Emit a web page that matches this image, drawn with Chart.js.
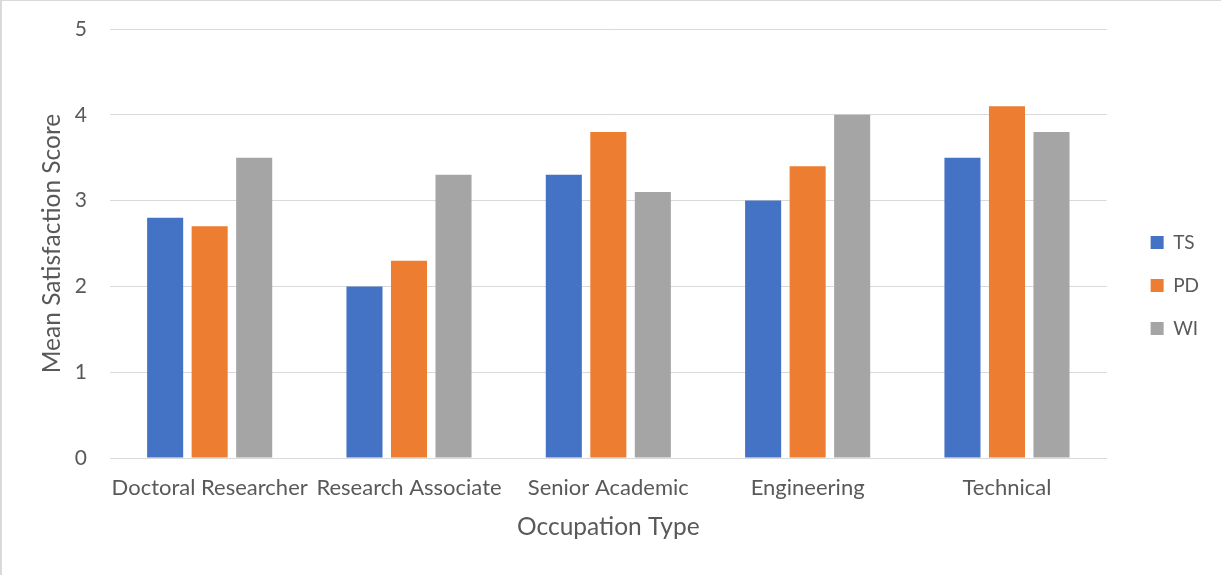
<!DOCTYPE html>
<html>
<head>
<meta charset="utf-8">
<script src="https://cdn.jsdelivr.net/npm/chart.js@4/dist/chart.umd.min.js"></script>
<style>
  html, body { margin: 0; padding: 0; background: #fff; }
  #wrap { position: relative; width: 1221px; height: 575px; box-sizing: border-box;
          border-left: 2px solid #d9d9d9; border-top: 1px solid #d9d9d9; }
</style>
</head>
<body>
<div id="wrap"><canvas id="c"></canvas></div>
<script>
const categories = ["Doctoral Researcher", "Research Associate", "Senior Academic", "Engineering", "Technical"];
const seriesNames = ["TS", "PD", "WI"];
const tsValues = [2.8, 2.0, 3.3, 3.0, 3.5];
const pdValues = [2.7, 2.3, 3.8, 3.4, 4.1];
const wiValues = [3.5, 3.3, 3.1, 4.0, 3.8];
const yTicks = [0, 1, 2, 3, 4, 5];

const FONT = "Lato, 'Liberation Sans', sans-serif";
const TXT = "#595959";
const colors = ["#4472C4", "#ED7D31", "#A5A5A5"];
const values = [tsValues, pdValues, wiValues];

const legendShift = {
  id: "legendShift",
  afterLayout(chart) {
    const lg = chart.legend;
    if (!lg) return;
    const target = chart.chartArea.right + 20;
    const dx = target - lg.left;
    lg.left += dx;
    lg.right += dx;
  }
};

new Chart(document.getElementById("c"), {
  type: "bar",
  data: {
    labels: categories,
    datasets: seriesNames.map((n, i) => ({
      label: n,
      data: values[i],
      backgroundColor: colors[i],
      categoryPercentage: 0.67,
      barPercentage: 0.81
    }))
  },
  plugins: [legendShift],
  options: {
    responsive: true,
    maintainAspectRatio: false,
    animation: false,
    layout: { padding: { top: 28, right: 32, bottom: 33, left: 35 } },
    plugins: {
      tooltip: { enabled: false },
      legend: {
        position: "right",
        align: "center",
        labels: {
          font: { family: FONT, size: 19 },
          color: TXT,
          boxWidth: 13,
          boxHeight: 13,
          padding: 24
        }
      }
    },
    scales: {
      x: {
        grid: { display: false, drawTicks: false },
        border: { color: "#d9d9d9", width: 1 },
        ticks: { font: { family: FONT, size: 22 }, color: TXT, padding: 17, maxRotation: 0, autoSkip: false },
        title: { display: true, text: "Occupation Type", font: { family: FONT, size: 24.5 }, color: TXT, padding: { top: 12, bottom: 0 } },
        afterFit: (s) => { s.height = 84; s.paddingLeft = 0; s.paddingRight = 0; }
      },
      y: {
        min: 0, max: 5,
        afterBuildTicks: (axis) => { axis.ticks = yTicks.map(v => ({ value: v })); },
        grid: { color: "#d9d9d9", drawTicks: false },
        border: { display: false },
        ticks: { font: { family: FONT, size: 21 }, color: TXT, padding: 23 },
        title: { display: true, text: "Mean Satisfaction Score", font: { family: FONT, size: 24.5 }, color: TXT, padding: { top: 0, bottom: 8 } },
        afterFit: (s) => { s.width = 73; s.paddingTop = 0; s.paddingBottom = 0; }
      }
    }
  }
});
</script>
</body>
</html>
